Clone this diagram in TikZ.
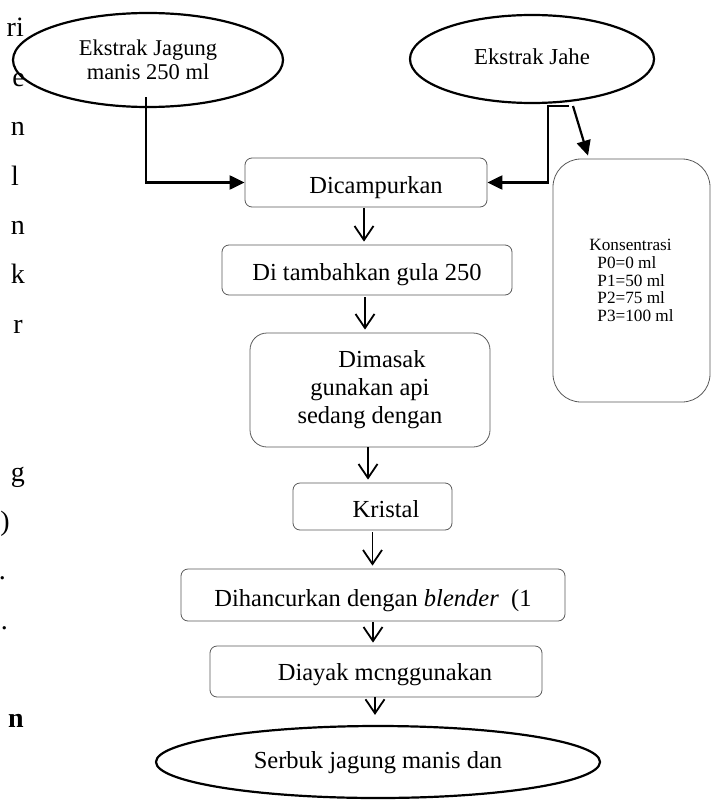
\documentclass[tikz,border=0pt]{standalone}
\usepackage{fontspec}
\setmainfont{Liberation Serif}
\usetikzlibrary{arrows.meta,shapes.geometric,calc}
\begin{document}
\begin{tikzpicture}[x=1pt,y=-1pt,
  box/.style={draw=black!65, line width=0.8pt, rounded corners=7pt, inner sep=0pt, font=\fontsize{24.5}{28}\selectfont},
  oval/.style={draw=black, line width=2.2pt, ellipse, inner sep=0pt},
  conn/.style={line width=2.2pt, -{Triangle[length=15pt,width=14pt]}},
  varrow/.style={line width=1.8pt, -{Straight Barb[length=14pt,width=19pt]}},
  margin/.style={anchor=base east, inner sep=0pt, font=\fontsize{28}{30}\selectfont}]
\useasboundingbox (0,0) rectangle (715,800);

% left margin text fragments
\node[margin] (m1) at (24,37) {ri};
\node[margin] (m2) at (25,86) {e};
\node[margin] (m3) at (25,135.5) {n};
\node[margin] (m4) at (19,185) {l};
\node[margin] (m5) at (25,234) {n};
\node[margin] (m6) at (25,283.5) {k};
\node[margin] (m7) at (23,333) {r};
\node[margin] (m8) at (25,481) {g};
\node[margin] (m9) at (10,530) {)};
\node[margin] (m10) at (6,579.5) {.};
\node[margin] (m11) at (8,629) {.};
\node[margin] (m12) at (24,727) {\textbf{n}};

% ellipses
\node[oval, minimum width=270pt, minimum height=94pt, align=center,
      font=\fontsize{22.5}{24}\selectfont] (jagung) at (148,60) {Ekstrak Jagung\\manis 250 ml};
\node[oval, minimum width=244pt, minimum height=88pt,
      font=\fontsize{22.8}{24}\selectfont, text height=16pt, text depth=4pt] (jahe) at (532,59) {Ekstrak Jahe};
\node[oval, minimum width=444pt, minimum height=72pt,
      font=\fontsize{24.5}{28}\selectfont, text height=16pt, text depth=4pt] (serbuk) at (378,762) {Serbuk jagung manis dan};

% process boxes
\node[box, minimum width=242pt, minimum height=49pt, text height=25pt, text depth=4pt] (campur) at (366,182.5) {\hspace*{20pt}Dicampurkan};
\node[box, minimum width=290pt, minimum height=50pt, text height=24pt, text depth=4pt] (tambah) at (367,270) {Di tambahkan gula 250};
\node[box, rounded corners=17pt, minimum width=240pt, minimum height=114pt, align=center] (masak) at (370,390) {\hspace*{24pt}Dimasak\\gunakan api\\sedang dengan};
\node[box, minimum width=159pt, minimum height=47pt, text height=25pt, text depth=4pt] (kristal) at (372.5,506.5) {\hspace*{27pt}Kristal};
\node[box, minimum width=384pt, minimum height=52pt, text height=26pt, text depth=4pt] (hancur) at (373,595) {Dihancurkan dengan \textit{blender}\ \ (1};
\node[box, minimum width=332pt, minimum height=51pt, text height=21pt, text depth=4pt] (ayak) at (376,671.5) {\hspace*{18pt}Diayak mcnggunakan};

% concentration box
\node[box, rounded corners=28pt, minimum width=157pt, minimum height=243pt, align=left,
      font=\fontsize{17.2}{17.8}\selectfont] (konsen) at (631.5,280.5)
      {Konsentrasi\\\hspace*{8pt}P0=0 ml\\\hspace*{8pt}P1=50 ml\\\hspace*{8pt}P2=75 ml\\\hspace*{8pt}P3=100 ml};

% connectors from the extracts
\draw[conn] ($(jagung.center)+(-2,37)$) |- (campur.west);
\draw[conn] ($(jahe.center)+(37,47)$) -- ($(jahe.center)+(16,47)$) |- (campur.east);
\draw[conn] ($(jahe.center)+(41,47)$) -- ($(konsen.north)+(-43.5,-3)$);

% downward flow arrows
\draw[varrow] ($(campur.south)+(-2,1)$) -- ($(campur.south |- tambah.north)+(-2,-3)$);
\draw[varrow] ($(tambah.south)+(-2,2)$) -- ($(tambah.south |- masak.north)+(-2,-3)$);
\draw[varrow] ($(masak.south)+(-2,0)$) -- ($(masak.south |- kristal.north)+(-2,-3)$);
\draw[varrow] ($(kristal.south)+(0,2)$) -- ($(kristal.south |- hancur.north)+(0,-3)$);
\draw[varrow] ($(hancur.south)+(0,1)$) -- ($(hancur.south |- ayak.north)+(0,-3)$);
\draw[varrow] ($(ayak.south)+(-1,0)$) -- ($(ayak.south |- serbuk.north)+(-1,-10)$);
\end{tikzpicture}
\end{document}
